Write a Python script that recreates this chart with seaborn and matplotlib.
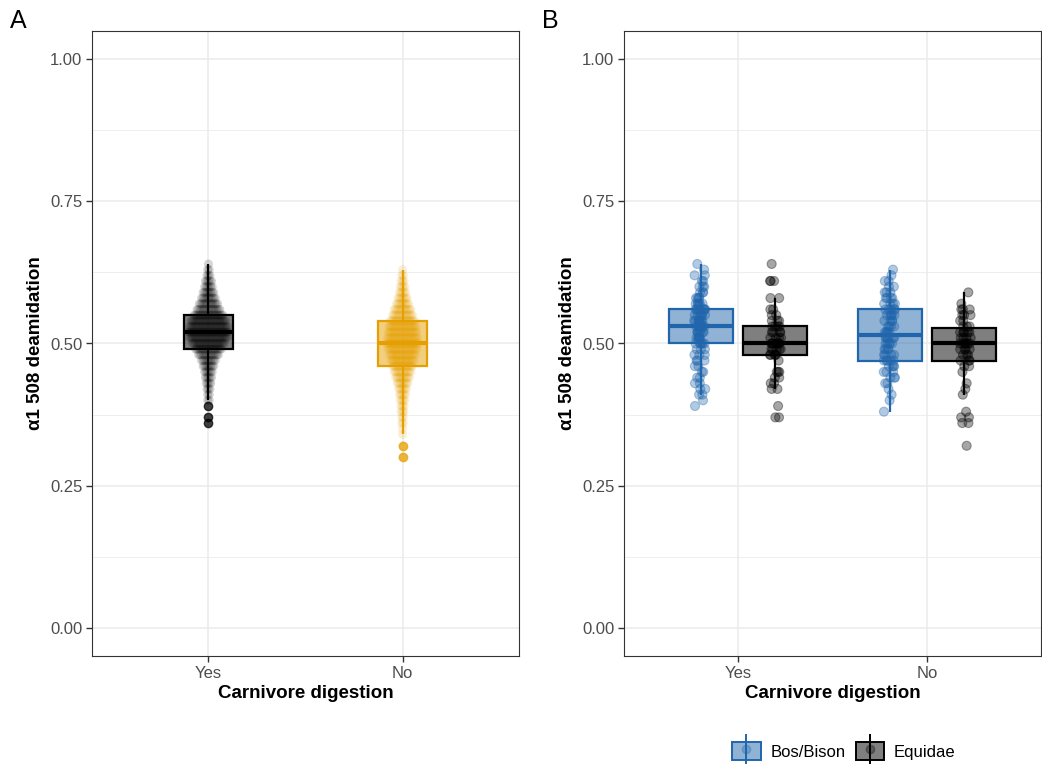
import seaborn as sns
import matplotlib.pyplot as plt
import numpy as np
import pandas as pd
from matplotlib.colors import to_rgba
from matplotlib.patches import Patch
from matplotlib.lines import Line2D

digestion = ["Yes", "No"]
taxa = ["Bos/Bison", "Equidae"]

# panel A - deamidation level (0.01 steps) and number of samples at each level
a_yes_vals = [0.36, 0.37, 0.39, 0.40, 0.41, 0.42, 0.43, 0.44, 0.45, 0.46, 0.47, 0.48, 0.49, 0.50,
              0.51, 0.52, 0.53, 0.54, 0.55, 0.56, 0.57, 0.58, 0.59, 0.60, 0.61, 0.62, 0.63, 0.64]
a_yes_counts = [1, 1, 1, 2, 2, 3, 4, 5, 6, 8, 10, 14, 18, 22,
                26, 28, 26, 24, 20, 16, 13, 10, 8, 6, 5, 3, 2, 1]
a_no_vals = [0.30, 0.32, 0.34, 0.35, 0.36, 0.37, 0.38, 0.39, 0.40, 0.41, 0.42, 0.43, 0.44, 0.45, 0.46,
             0.47, 0.48, 0.49, 0.50, 0.51, 0.52, 0.53, 0.54, 0.55, 0.56, 0.57, 0.58, 0.59, 0.60,
             0.61, 0.62, 0.63]
a_no_counts = [1, 1, 1, 1, 2, 2, 3, 3, 4, 5, 6, 8, 10, 12, 14,
               16, 18, 20, 22, 21, 20, 19, 17, 14, 12, 9, 7, 5, 4,
               3, 2, 1]

# panel B - same thing split by taxon
bos_yes_vals = [0.39, 0.40, 0.41, 0.42, 0.43, 0.44, 0.45, 0.46, 0.47, 0.48, 0.49, 0.50, 0.51, 0.52,
                0.53, 0.54, 0.55, 0.56, 0.57, 0.58, 0.59, 0.60, 0.61, 0.62, 0.63, 0.64]
bos_yes_counts = [1, 1, 2, 2, 2, 2, 2, 2, 3, 3, 3, 6, 6, 7,
                  8, 8, 7, 8, 6, 4, 3, 3, 2, 2, 1, 1]
equ_yes_vals = [0.37, 0.39, 0.42, 0.43, 0.44, 0.45, 0.47, 0.48, 0.49, 0.50, 0.51, 0.52, 0.53,
                0.54, 0.55, 0.56, 0.58, 0.61, 0.64]
equ_yes_counts = [2, 1, 2, 2, 2, 3, 1, 5, 5, 7, 4, 4, 4,
                  3, 2, 2, 2, 3, 1]
bos_no_vals = [0.38, 0.40, 0.41, 0.42, 0.43, 0.44, 0.45, 0.46, 0.47, 0.48, 0.49, 0.50, 0.51, 0.52,
               0.53, 0.54, 0.55, 0.56, 0.57, 0.58, 0.59, 0.60, 0.61, 0.62, 0.63]
bos_no_counts = [1, 1, 1, 1, 2, 3, 3, 4, 5, 4, 4, 5, 6, 5,
                 4, 4, 5, 5, 4, 4, 3, 2, 2, 1, 1]
equ_no_vals = [0.32, 0.36, 0.37, 0.38, 0.41, 0.42, 0.43, 0.45, 0.46, 0.47, 0.48, 0.49, 0.50,
               0.51, 0.52, 0.53, 0.54, 0.55, 0.56, 0.57, 0.59]
equ_no_counts = [1, 2, 2, 1, 1, 1, 1, 1, 2, 3, 3, 4, 6,
                 4, 5, 3, 2, 3, 3, 1, 1]

colors_a = {"Yes": "black", "No": "#E69F00"}
colors_b = {"Bos/Bison": "#2166AC", "Equidae": "black"}

np.random.seed(7)

# build data frames
rows = []
for i, (lvl, vals, counts) in enumerate([("Yes", a_yes_vals, a_yes_counts), ("No", a_no_vals, a_no_counts)]):
    for v, n in zip(vals, counts):
        for k in range(n):
            # simple beeswarm: spread each row sideways around the category
            rows.append((lvl, v, i + (k - (n - 1) / 2) * 0.0078))
dfA = pd.DataFrame(rows, columns=["digestion", "value", "xpos"])

rows = []
for lvl, taxon, vals, counts in [("Yes", "Bos/Bison", bos_yes_vals, bos_yes_counts),
                                 ("Yes", "Equidae", equ_yes_vals, equ_yes_counts),
                                 ("No", "Bos/Bison", bos_no_vals, bos_no_counts),
                                 ("No", "Equidae", equ_no_vals, equ_no_counts)]:
    for v in np.repeat(vals, counts):
        rows.append((lvl, taxon, v))
dfB = pd.DataFrame(rows, columns=["digestion", "taxon", "value"])

sns.set_theme(style="white")
plt.rcParams['font.family'] = ['Liberation Sans', 'DejaVu Sans']
plt.rcParams['text.color'] = 'black'
plt.rcParams['axes.labelcolor'] = 'black'

fig = plt.figure(figsize=(10.42, 7.65), dpi=100)
axA = fig.add_axes([92 / 1042, 1 - 656 / 765, 427 / 1042, 625 / 765])
axB = fig.add_axes([624 / 1042, 1 - 656 / 765, 417 / 1042, 625 / 765])

# ---- panel A
for lvl in digestion:
    c = colors_a[lvl]
    n0 = len(axA.patches)
    sns.boxplot(data=dfA[dfA.digestion == lvl], x="digestion", y="value", order=digestion,
                color=c, linecolor=c, width=0.25, linewidth=1.6, showcaps=False,
                medianprops=dict(linewidth=3, color=c),
                flierprops=dict(marker="o", markersize=6, markerfacecolor=c,
                                markeredgecolor=c, alpha=0.7),
                ax=axA)
    for p in axA.patches[n0:]:
        p.set_facecolor(to_rgba(c, 0.5))
        p.set_edgecolor(c)

sns.scatterplot(data=dfA, x="xpos", y="value", hue="digestion", palette=colors_a,
                alpha=0.16, s=42, linewidth=0, legend=False, ax=axA)

# ---- panel B
for taxon in taxa:
    c = colors_b[taxon]
    n0 = len(axB.patches)
    sns.boxplot(data=dfB[dfB.taxon == taxon], x="digestion", y="value", hue="taxon",
                order=digestion, hue_order=taxa, palette=colors_b, linecolor=c, dodge=True,
                width=0.78, gap=0.13, linewidth=1.6, showcaps=False, showfliers=False,
                medianprops=dict(linewidth=3, color=c), legend=False, ax=axB)
    for p in axB.patches[n0:]:
        p.set_facecolor(to_rgba(c, 0.5))
        p.set_edgecolor(c)

sns.stripplot(data=dfB, x="digestion", y="value", hue="taxon", order=digestion, hue_order=taxa,
              palette=colors_b, dodge=True, jitter=0.06, size=6.5, alpha=0.35,
              linewidth=0.8, edgecolor="face", legend=False, ax=axB)

for ax in (axA, axB):
    ax.set_xlim(-0.6, 1.6)
    ax.set_ylim(-0.05, 1.05)
    ax.set_xticks([0, 1])
    ax.set_xticklabels(digestion)
    ax.set_yticks([0, 0.25, 0.5, 0.75, 1.0])
    ax.set_yticklabels(["0.00", "0.25", "0.50", "0.75", "1.00"])
    ax.set_yticks([0.125, 0.375, 0.625, 0.875], minor=True)
    ax.grid(True, which="major", color="#EBEBEB", linewidth=1.1)
    ax.grid(True, which="minor", axis="y", color="#EBEBEB", linewidth=0.6)
    ax.set_axisbelow(True)
    ax.tick_params(which="major", length=4, width=1, color="#333333", labelcolor="#4D4D4D",
                   labelsize=12, pad=3, bottom=True, left=True)
    ax.tick_params(which="minor", length=0)
    for s in ax.spines.values():
        s.set_color("#333333")
        s.set_linewidth(0.8)
    ax.set_xlabel("Carnivore digestion", fontsize=13.5, fontweight="bold", labelpad=3)
    ax.set_ylabel("α1 508 deamidation", fontsize=13.5, fontweight="bold", labelpad=4)

fig.text(10 / 1042, 1 - 28 / 765, "A", fontsize=18, va="baseline")
fig.text(542 / 1042, 1 - 28 / 765, "B", fontsize=18, va="baseline")

handles = []
for taxon in taxa:
    c = colors_b[taxon]
    handles.append((Patch(facecolor=to_rgba(c, 0.5), edgecolor=c, linewidth=1.4),
                    Line2D([], [], marker="|", markersize=22, color=c, linestyle="none", markeredgewidth=1.4),
                    Line2D([], [], marker="o", markersize=6, color=c, alpha=0.3, linestyle="none")))
fig.legend(handles, taxa, loc="center", bbox_to_anchor=(844 / 1042, 1 - 751 / 765), ncol=2,
           frameon=False, fontsize=12, handlelength=1.7, handleheight=1.3, columnspacing=0.6,
           handletextpad=0.6)

fig.savefig("out.png", dpi=100)
